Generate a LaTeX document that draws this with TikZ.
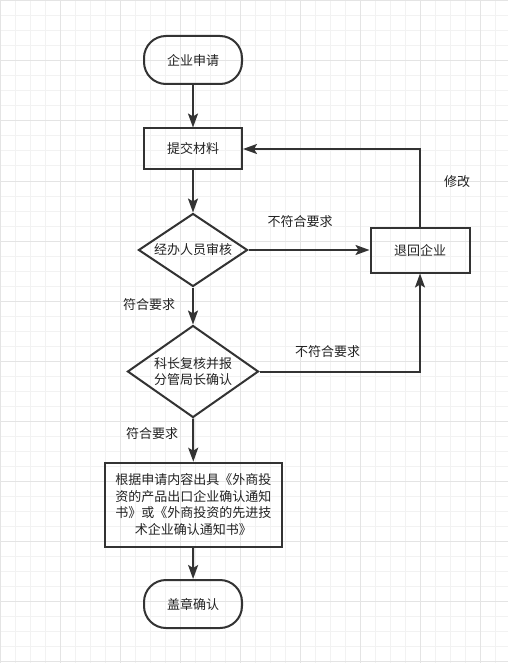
\documentclass[tikz,border=0pt]{standalone}
\usepackage{fontspec}
\setmainfont{Noto Sans CJK SC}
\usetikzlibrary{shapes.geometric,arrows.meta}
\definecolor{linegray}{HTML}{333333}
\definecolor{textgray}{HTML}{222222}
\definecolor{gridminor}{HTML}{F2F2F2}
\definecolor{gridmajor}{HTML}{E4E4E4}
\begin{document}
\begin{tikzpicture}[x=1pt,y=-1pt,
		every node/.style={font=\fontsize{13}{16.5}\selectfont,text=textgray},
		terminal/.style={draw=linegray,line width=2pt,rectangle,rounded corners=22pt,minimum width=98pt,minimum height=48pt,inner sep=0pt},
		box/.style={draw=linegray,line width=2pt,rectangle,inner sep=0pt,align=center},
		decision/.style={draw=linegray,line width=2pt,diamond,inner sep=0pt,align=center},
		flow/.style={draw=linegray,line width=2pt,-{Stealth[length=14pt,width=10pt,inset=3pt]}},
		lbl/.style={inner sep=1pt}]
			\useasboundingbox (0,0) rectangle (508,663);
			\fill[white] (0,0) rectangle (508,663);
			% grid
			\foreach \gx in {0,15,...,510} \draw[gridminor,line width=1pt] (\gx,0)--(\gx,663);
			\foreach \gy in {1,16,...,663} \draw[gridminor,line width=1pt] (0,\gy)--(508,\gy);
			\foreach \gx in {0,60,...,480} \draw[gridmajor,line width=1pt] (\gx,0)--(\gx,663);
			\foreach \gy in {1,61,...,661} \draw[gridmajor,line width=1pt] (0,\gy)--(508,\gy);
			% nodes
			\node[terminal] (apply) at (193,60) {企业申请};
			\node[box,minimum width=98pt,minimum height=41pt] (submit) at (193,149) {提交材料};
			\node[decision,shape aspect=1.49,minimum width=109pt,minimum height=73pt] (review) at (193,250) {经办人员审核};
			\node[box,minimum width=99pt,minimum height=45pt] (reject) at (420,250) {退回企业};
			\node[decision,shape aspect=1.42,minimum width=131pt,minimum height=92pt] (recheck) at (193,371.5) {科长复核并报\\分管局长确认};
			\node[box,minimum width=177pt,minimum height=84pt] (issue) at (193.3,504.7) {根据申请内容出具《外商投\\资的产品出口企业确认通知\\书》或《外商投资的先进技\\术企业确认通知书》};
			\node[terminal] (stamp) at (193,604) {盖章确认};
			% labels
			\node[lbl] (fail1) at (300,222) {不符合要求};
			\node[lbl] (pass1) at (149,305) {符合要求};
			\node[lbl] (fail2) at (327.5,352) {不符合要求};
			\node[lbl] (pass2) at (152,434) {符合要求};
			\node[lbl] (modify) at (457,182) {修改};
			% connectors
			\draw[flow] (apply)--(submit);
			\draw[flow] (submit)--(review);
			\draw[flow] (review.east)--(reject.west);
			\draw[flow] (review.south)--(recheck.north);
			\draw[flow,line join=miter] (recheck.east)-|(reject.south);
			\draw[flow] (recheck.south)--(issue.north);
			\draw[flow] (issue)--(stamp);
			\draw[flow,line join=miter] (reject.north)|-(submit.east);
		\end{tikzpicture}
\end{document}
